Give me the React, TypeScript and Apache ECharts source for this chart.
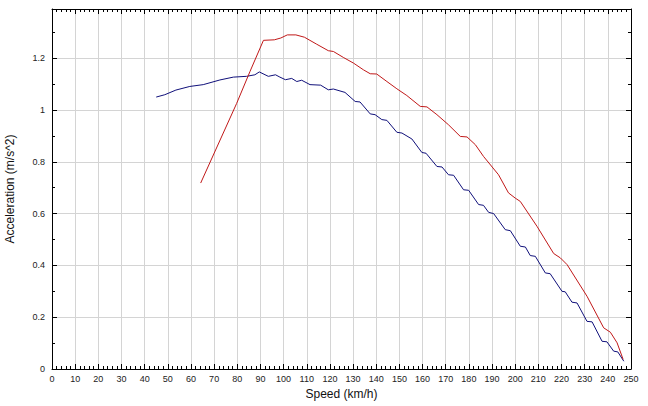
import React, { useEffect, useRef } from "react";
import * as echarts from "echarts";

const blueSpeed = [45, 48.7, 53.5, 59.5, 65.3, 72.5, 78.3, 84.0, 87.6, 89.5, 93.4, 96.5, 98.4, 100.8, 103.5, 105.7, 107.8, 111.4, 116.0, 119.3, 121.5, 126.5, 130.9, 133.0, 137.4, 139.5, 142.4, 144.6, 148.9, 151.1, 155.4, 159.7, 161.5, 166.2, 168.4, 171.2, 173.4, 177.7, 179.9, 184.2, 186.3, 188.5, 190.7, 195.7, 197.9, 202.2, 204.4, 206.5, 208.7, 213.0, 215.1, 220.2, 221.6, 224.5, 226.7, 231.0, 233.2, 237.5, 239.6, 242.5, 244.3, 246.9];
const blueAccel = [1.050, 1.059, 1.077, 1.091, 1.098, 1.116, 1.127, 1.130, 1.136, 1.147, 1.130, 1.136, 1.127, 1.117, 1.122, 1.110, 1.115, 1.098, 1.096, 1.078, 1.081, 1.068, 1.033, 1.031, 0.985, 0.982, 0.963, 0.960, 0.914, 0.911, 0.888, 0.836, 0.833, 0.782, 0.780, 0.750, 0.748, 0.692, 0.690, 0.635, 0.632, 0.605, 0.600, 0.538, 0.534, 0.474, 0.471, 0.438, 0.435, 0.371, 0.368, 0.300, 0.298, 0.258, 0.255, 0.184, 0.182, 0.107, 0.105, 0.069, 0.066, 0.030];

const redSpeed = [64.2, 79.7, 85.5, 91.3, 96.0, 98.8, 101.6, 105.3, 109.0, 114.3, 119.3, 121.5, 125.8, 130.2, 134.5, 137.4, 140.2, 144.6, 148.9, 153.2, 159.0, 161.9, 166.2, 171.2, 176.3, 179.2, 182.8, 186.3, 192.8, 197.1, 200.0, 202.2, 209.4, 216.6, 219.5, 222.4, 231.0, 238.2, 241.1, 244.0, 246.6];
const redAccel = [0.718, 1.025, 1.149, 1.269, 1.271, 1.278, 1.290, 1.290, 1.281, 1.254, 1.229, 1.226, 1.203, 1.181, 1.155, 1.140, 1.139, 1.110, 1.082, 1.056, 1.014, 1.012, 0.982, 0.943, 0.898, 0.896, 0.866, 0.821, 0.750, 0.680, 0.660, 0.647, 0.551, 0.446, 0.429, 0.403, 0.281, 0.159, 0.142, 0.101, 0.037];

const xTitle = "Speed (km/h)";
const yTitle = "Acceleration (m/s^2)";

const FONT = "'Liberation Sans', Arial, sans-serif";

export default function App() {
  const ref = useRef<HTMLDivElement>(null);
  useEffect(() => {
    if (!ref.current) return;
    const chart = echarts.init(ref.current, undefined, { renderer: "svg" });
    const gridColor = "#d4d4d4";
    const axisLine = { show: true, onZero: false, lineStyle: { color: "#000", width: 1 } };
    const axisTick = { show: true, inside: true, length: 5, lineStyle: { color: "#000" } };
    const yFmt = (v: number) => {
      const k = v / 0.2;
      if (Math.abs(k - Math.round(k)) > 1e-6) return "";
      return String(+v.toFixed(1));
    };
    chart.setOption({
      animation: false,
      backgroundColor: "#fff",
      grid: { left: 52, top: 9, width: 579, height: 360, containLabel: false, outerBoundsMode: "none" },
      xAxis: [
        {
          type: "value",
          min: 0,
          max: 250,
          interval: 10,
          position: "bottom",
          axisLine,
          axisTick,
          minorTick: { show: true, splitNumber: 5, length: 3, lineStyle: { color: "#000" } },
          splitLine: { show: true, lineStyle: { color: gridColor, width: 1 } },
          axisLabel: { fontSize: 9, fontFamily: FONT, color: "#222", margin: 5 },
          name: xTitle,
          nameLocation: "middle",
          nameGap: 17,
          nameTextStyle: { fontSize: 12, fontFamily: FONT, color: "#111" },
        },
        {
          type: "value",
          min: 0,
          max: 250,
          interval: 10,
          position: "top",
          axisLine,
          axisTick,
          minorTick: { show: true, splitNumber: 5, length: 3, lineStyle: { color: "#000" } },
          splitLine: { show: false },
          axisLabel: { show: false },
        },
      ],
      yAxis: [
        {
          type: "value",
          min: 0,
          max: 1.39,
          interval: 0.2,
          position: "left",
          axisLine,
          axisTick,
          minorTick: { show: true, splitNumber: 2, length: 3, lineStyle: { color: "#000" } },
          splitLine: { show: true, lineStyle: { color: gridColor, width: 1 } },
          axisLabel: { fontSize: 9, fontFamily: FONT, color: "#222", margin: 7, formatter: yFmt },
          name: yTitle,
          nameLocation: "middle",
          nameGap: 36,
          nameTextStyle: { fontSize: 12, fontFamily: FONT, color: "#111" },
        },
        {
          type: "value",
          min: 0,
          max: 1.39,
          interval: 0.2,
          position: "right",
          axisLine,
          axisTick,
          minorTick: { show: true, splitNumber: 2, length: 3, lineStyle: { color: "#000" } },
          splitLine: { show: false },
          axisLabel: { show: false },
        },
      ],
      series: [
        {
          type: "line",
          xAxisIndex: 0,
          yAxisIndex: 0,
          data: blueSpeed.map((s, i) => [s, blueAccel[i]]),
          showSymbol: false,
          lineStyle: { color: "#10107a", width: 1 },
          itemStyle: { color: "#10107a" },
        },
        {
          type: "line",
          xAxisIndex: 0,
          yAxisIndex: 0,
          data: redSpeed.map((s, i) => [s, redAccel[i]]),
          showSymbol: false,
          lineStyle: { color: "#c01818", width: 1 },
          itemStyle: { color: "#c01818" },
        },
      ],
    });
    return () => chart.dispose();
  }, []);
  return (
    <div
      ref={ref}
      style={{ position: "absolute", left: 0, top: 0, width: 648, height: 406, background: "#fff" }}
    />
  );
}
